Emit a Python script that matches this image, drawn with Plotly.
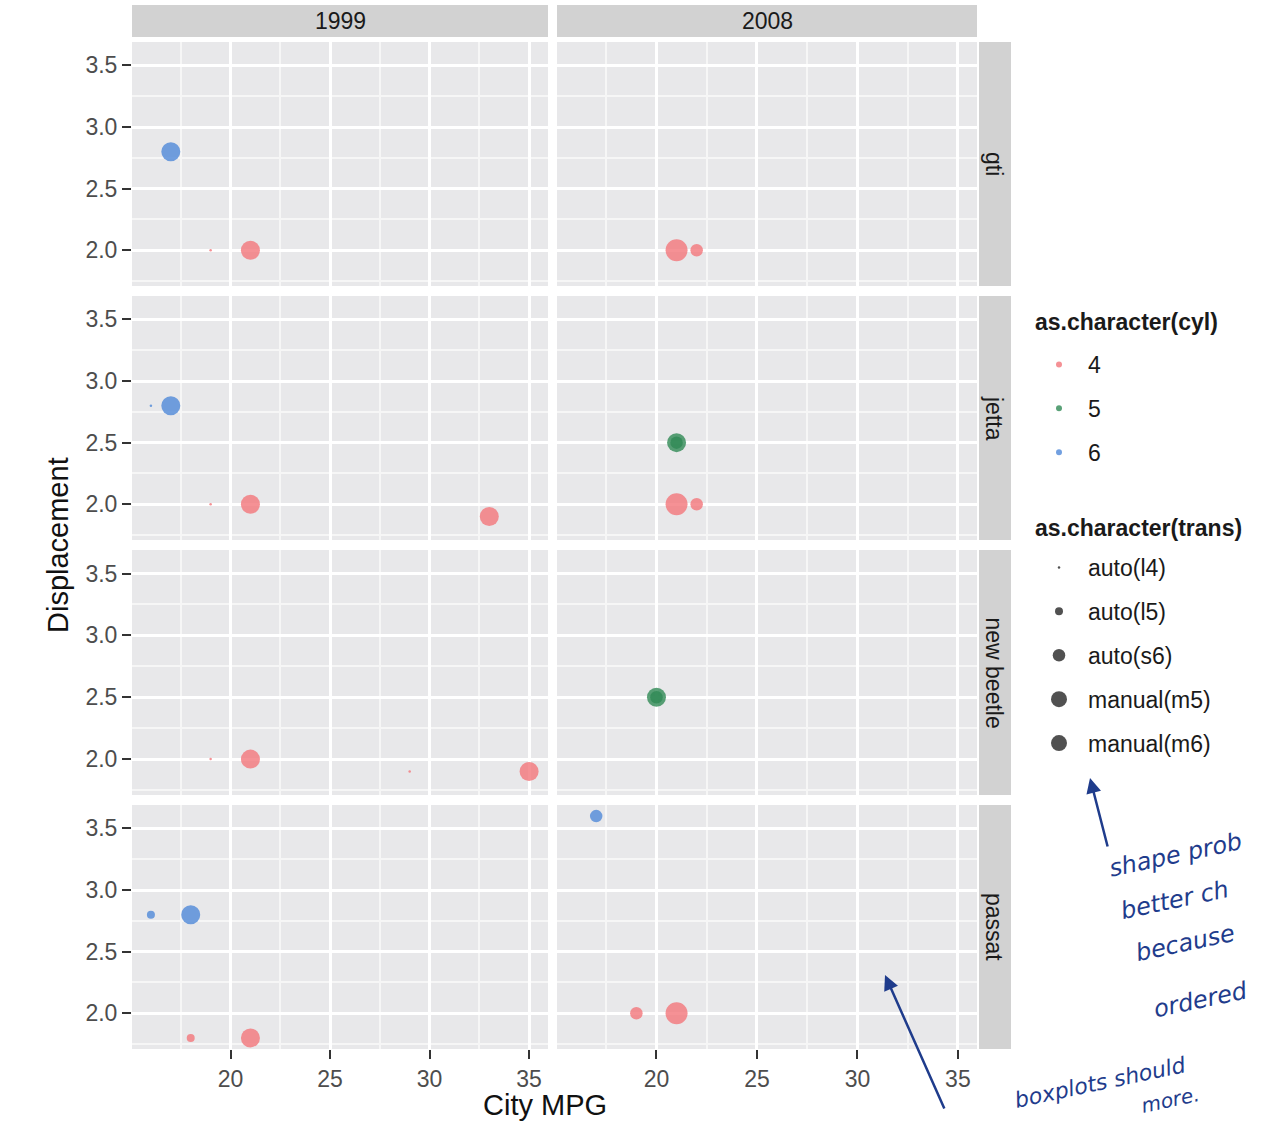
import plotly.graph_objects as go

W, H = 1263, 1124

# ---------------- data ----------------
models = ["gti", "jetta", "new beetle", "passat"]
years = [1999, 2008]
cyl_levels = ["4", "5", "6"]
trans_levels = ["auto(l4)", "auto(l5)", "auto(s6)", "manual(m5)", "manual(m6)"]

pt_model = ["gti", "gti", "gti", "gti", "gti",
            "jetta", "jetta", "jetta", "jetta", "jetta", "jetta", "jetta", "jetta", "jetta",
            "new beetle", "new beetle", "new beetle", "new beetle", "new beetle", "new beetle",
            "passat", "passat", "passat", "passat", "passat", "passat", "passat"]
pt_year = [1999, 1999, 2008, 2008, 1999,
           1999, 1999, 1999, 2008, 2008, 2008, 2008, 1999, 1999,
           1999, 1999, 1999, 1999, 2008, 2008,
           1999, 1999, 2008, 2008, 1999, 1999, 2008]
pt_displ = [2.0, 2.0, 2.0, 2.0, 2.8,
            1.9, 2.0, 2.0, 2.0, 2.0, 2.5, 2.5, 2.8, 2.8,
            1.9, 1.9, 2.0, 2.0, 2.5, 2.5,
            1.8, 1.8, 2.0, 2.0, 2.8, 2.8, 3.6]
pt_cty = [19, 21, 21, 22, 17,
          33, 19, 21, 22, 21, 21, 21, 16, 17,
          35, 29, 21, 19, 20, 20,
          21, 18, 19, 21, 16, 18, 17]
pt_cyl = ["4", "4", "4", "4", "6",
          "4", "4", "4", "4", "4", "5", "5", "6", "6",
          "4", "4", "4", "4", "5", "5",
          "4", "4", "4", "4", "6", "6", "6"]
pt_trans = ["auto(l4)", "manual(m5)", "manual(m6)", "auto(s6)", "manual(m5)",
            "manual(m5)", "auto(l4)", "manual(m5)", "auto(s6)", "manual(m6)", "auto(s6)", "manual(m5)", "auto(l4)", "manual(m5)",
            "manual(m5)", "auto(l4)", "manual(m5)", "auto(l4)", "manual(m5)", "auto(s6)",
            "manual(m5)", "auto(l5)", "auto(s6)", "manual(m6)", "auto(l5)", "manual(m5)", "auto(s6)"]

x_ticks = [20, 25, 30, 35]
y_ticks = [2.0, 2.5, 3.0, 3.5]

# ---------------- styles ----------------
cyl_color = {"4": "#F2767A", "5": "#2F8A55", "6": "#4F88D8"}
trans_size = {"auto(l4)": 2.5, "auto(l5)": 8, "auto(s6)": 12.5, "manual(m5)": 19, "manual(m6)": 22}
FONT = "Liberation Sans, Arial, sans-serif"
PANEL_BG = "#E8E8EA"
STRIP_BG = "#D2D2D2"
TXT = "#1A1A1A"

col_px = [(132, 548), (557, 977)]
row_px = [(42, 286), (296, 540), (550, 795), (805, 1049)]


def fx(p):
    return p / W


def fy(p):
    return 1 - p / H


def note(text, px, py, size, color=TXT, angle=0, xanchor="center", family=FONT):
    return dict(text=text, xref="paper", yref="paper", x=fx(px), y=fy(py),
                xanchor=xanchor, yanchor="middle", showarrow=False, textangle=angle,
                font=dict(family=family, size=size, color=color))


fig = go.Figure()
layout = dict()
shapes = []
annotations = []

for r, model in enumerate(models):
    for c, year in enumerate(years):
        i = r * 2 + c + 1
        xs = "x" if i == 1 else f"x{i}"
        ys = "y" if i == 1 else f"y{i}"
        for cyl in cyl_levels:
            idx = [k for k in range(len(pt_model))
                   if pt_model[k] == model and pt_year[k] == year and pt_cyl[k] == cyl]
            if not idx:
                continue
            fig.add_trace(go.Scatter(
                x=[pt_cty[k] for k in idx],
                y=[pt_displ[k] for k in idx],
                mode="markers",
                marker=dict(color=cyl_color[cyl],
                            size=[trans_size[pt_trans[k]] for k in idx],
                            opacity=0.8, line=dict(width=0)),
                xaxis=xs, yaxis=ys, showlegend=False, hoverinfo="x+y"))
        bottom = (r == len(models) - 1)
        left = (c == 0)
        xa = dict(domain=[fx(col_px[c][0]), fx(col_px[c][1])],
                  range=[15.05, 35.95], anchor=ys,
                  tickvals=x_ticks, showticklabels=bottom,
                  ticks="outside" if bottom else "", ticklen=9, tickwidth=1.5, tickcolor="#333333",
                  tickfont=dict(family=FONT, size=23, color="#4D4D4D"),
                  showgrid=True, gridcolor="#FFFFFF", gridwidth=2.5,
                  zeroline=False, showline=False,
                  minor=dict(tickvals=[17.5, 22.5, 27.5, 32.5], showgrid=True,
                             gridcolor="#F6F6F6", gridwidth=1.5, ticks=""))
        ya = dict(domain=[fy(row_px[r][1]), fy(row_px[r][0])],
                  range=[1.71, 3.69], anchor=xs,
                  tickvals=y_ticks, ticktext=[f"{v:.1f}" for v in y_ticks],
                  showticklabels=left,
                  ticks="outside" if left else "", ticklen=9, tickwidth=1.5, tickcolor="#333333",
                  tickfont=dict(family=FONT, size=23, color="#4D4D4D"),
                  showgrid=True, gridcolor="#FFFFFF", gridwidth=2.5,
                  zeroline=False, showline=False,
                  minor=dict(tickvals=[1.75, 2.25, 2.75, 3.25], showgrid=True,
                             gridcolor="#F6F6F6", gridwidth=1.5, ticks=""))
        layout["xaxis" if i == 1 else f"xaxis{i}"] = xa
        layout["yaxis" if i == 1 else f"yaxis{i}"] = ya

# top strips
for c, year in enumerate(years):
    shapes.append(dict(type="rect", xref="paper", yref="paper",
                       x0=fx(col_px[c][0]), x1=fx(col_px[c][1]), y0=fy(37), y1=fy(5),
                       fillcolor=STRIP_BG, line=dict(width=0), layer="below"))
    annotations.append(note(str(year), (col_px[c][0] + col_px[c][1]) / 2, 21, 23))
# right strips
for r, model in enumerate(models):
    shapes.append(dict(type="rect", xref="paper", yref="paper",
                       x0=fx(979), x1=fx(1011), y0=fy(row_px[r][1]), y1=fy(row_px[r][0]),
                       fillcolor=STRIP_BG, line=dict(width=0), layer="below"))
    annotations.append(note(model, 994, (row_px[r][0] + row_px[r][1]) / 2, 23, angle=90))

# axis titles
annotations.append(note("City MPG", 545, 1105, 29, color="#111111"))
annotations.append(note("Displacement", 58, 545, 29, color="#111111", angle=-90))

# legend titles
annotations.append(note("<b>as.character(cyl)</b>", 1033, 322, 23, xanchor="left"))
annotations.append(note("<b>as.character(trans)</b>", 1033, 528, 23, xanchor="left"))

# handwritten notes
INK = "#1F3C8C"
HAND = "DejaVu Sans, sans-serif"
notes = [("shape prob", 1175, 855, 24), ("better ch", 1175, 900, 24), ("because", 1185, 943, 24),
         ("ordered", 1200, 1000, 24), ("boxplots should", 1100, 1082, 22), ("more.", 1170, 1100, 20)]
for txt, px, py, sz in notes:
    annotations.append(note(f"<i>{txt}</i>", px, py, sz, color=INK, angle=-12, family=HAND))
annotations.append(dict(text="", xref="paper", yref="paper", x=fx(1090), y=fy(778),
                        ax=18, ay=70, showarrow=True, arrowhead=2, arrowwidth=2.5,
                        arrowcolor=INK, arrowsize=1.2))
annotations.append(dict(text="", xref="paper", yref="paper", x=fx(885), y=fy(975),
                        ax=60, ay=135, showarrow=True, arrowhead=2, arrowwidth=2.5,
                        arrowcolor=INK, arrowsize=1.2))

# legend entries
for k, cyl in enumerate(cyl_levels):
    fig.add_trace(go.Scatter(x=[None], y=[None], mode="markers", name=cyl,
                             marker=dict(color=cyl_color[cyl], size=6, opacity=0.8),
                             legend="legend", legendgroup=f"c{k}", showlegend=True))
for k, tr in enumerate(trans_levels):
    fig.add_trace(go.Scatter(x=[None], y=[None], mode="markers", name=tr,
                             marker=dict(color="#333333", size=trans_size[tr], opacity=0.85),
                             legend="legend2", legendgroup=f"t{k}", showlegend=True))

legend_font = dict(family=FONT, size=23, color=TXT)
layout["legend"] = dict(x=fx(1030), y=fy(343), xanchor="left", yanchor="top",
                        font=legend_font, itemsizing="trace", tracegroupgap=11,
                        itemwidth=48, bgcolor="rgba(0,0,0,0)")
layout["legend2"] = dict(x=fx(1030), y=fy(546), xanchor="left", yanchor="top",
                         font=legend_font, itemsizing="trace", tracegroupgap=11,
                         itemwidth=48, bgcolor="rgba(0,0,0,0)")

fig.update_layout(**layout)
fig.update_layout(width=W, height=H, margin=dict(l=0, r=0, t=0, b=0),
                  paper_bgcolor="#FFFFFF", plot_bgcolor=PANEL_BG,
                  shapes=shapes, annotations=annotations,
                  font=dict(family=FONT))

fig.write_html("out.html")
